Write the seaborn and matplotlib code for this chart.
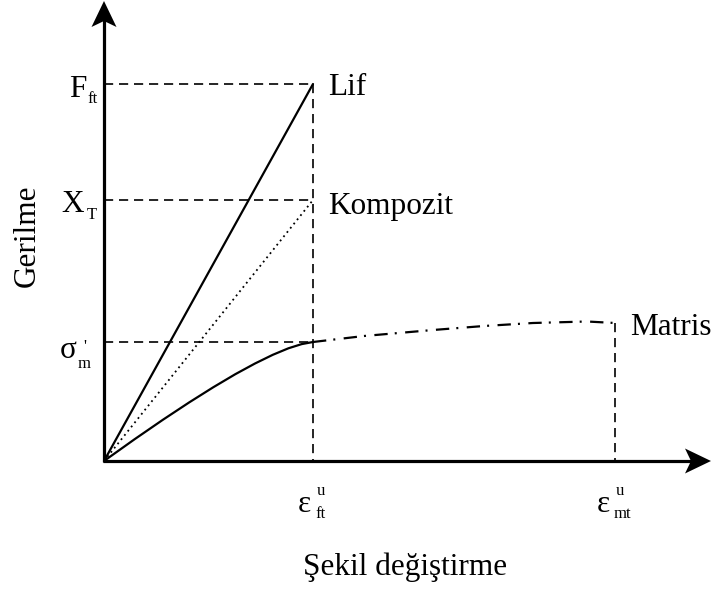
import numpy as np
import pandas as pd
import seaborn as sns
import matplotlib
matplotlib.use("Agg")
import matplotlib.pyplot as plt
from matplotlib.patches import Polygon

# ---- schematic values (arbitrary units) ----
eps_ft = 2.09      # fibre failure strain
eps_mt = 5.11      # matrix failure strain
F_ft = 3.77        # fibre strength
X_T = 2.61         # composite strength
sigma_m = 1.19     # matrix stress at fibre failure

fiber_x = [0.0, eps_ft]
fiber_y = [0.0, F_ft]

comp_x = [0.0, eps_ft]
comp_y = [0.0, X_T]

matrix_x = [0.0, 0.305, 0.59, 0.852, 1.092, 1.313, 1.51, 1.688, 1.844, 1.977, eps_ft]
matrix_y = [0.0, 0.217, 0.413, 0.586, 0.737, 0.868, 0.975, 1.062, 1.127, 1.169, sigma_m]

matrix_tail_x = [eps_ft, 2.6, 3.29, 3.8, 4.29, 4.83, eps_mt]
matrix_tail_y = [sigma_m, 1.25, 1.31, 1.35, 1.38, 1.395, 1.38]

sns.set_style("white")
plt.rcParams["font.family"] = ["Liberation Serif", "DejaVu Serif"]
plt.rcParams["text.color"] = "black"

fig = plt.figure(figsize=(7.15, 5.92), dpi=100)
ax = fig.add_axes([0, 0, 1, 1])
ax.set_xlim(-1.04, 6.11)
ax.set_ylim(-1.31, 4.61)
ax.set_axis_off()

k = "black"

# curves
sns.lineplot(x=fiber_x, y=fiber_y, ax=ax, color=k, lw=1.6, sort=False, estimator=None)
sns.lineplot(x=comp_x, y=comp_y, ax=ax, color=k, lw=1.3, sort=False, estimator=None,
             linestyle=(0, (1, 2)))
sns.lineplot(x=matrix_x, y=matrix_y, ax=ax, color=k, lw=1.6, sort=False, estimator=None)
sns.lineplot(x=matrix_tail_x, y=matrix_tail_y, ax=ax, color=k, lw=1.6, sort=False,
             estimator=None, linestyle=(0, (6.0, 3.2, 0.9, 3.8)))

# guide lines
dash = (0, (5.5, 3.5))
for lvl in (F_ft, X_T, sigma_m):
    ax.plot([0, eps_ft], [lvl, lvl], color=k, lw=1.2, linestyle=dash)
ax.plot([eps_ft, eps_ft], [F_ft, 0], color=k, lw=1.2, linestyle=dash)
ax.plot([eps_mt, eps_mt], [matrix_tail_y[-1], 0], color=k, lw=1.2, linestyle=dash)

# axes with arrow heads
ax.plot([-0.01, 5.9], [0, 0], color=k, lw=2.3, solid_capstyle="butt")
ax.plot([0, 0], [-0.01, 4.45], color=k, lw=2.3, solid_capstyle="butt")
ax.add_patch(Polygon([(6.07, 0), (5.81, 0.125), (5.87, 0), (5.81, -0.125)],
                     closed=True, color=k, lw=0))
ax.add_patch(Polygon([(0, 4.60), (-0.125, 4.34), (0, 4.40), (0.125, 4.34)],
                     closed=True, color=k, lw=0))

big = 22.5
small = 12

# y-level labels
ax.text(-0.35, 3.64, "F", fontsize=big, ha="left", va="baseline")
ax.text(-0.17, 3.58, "ft", fontsize=small, ha="left", va="baseline")
ax.text(-0.43, 2.49, "X", fontsize=big, ha="left", va="baseline")
ax.text(-0.17, 2.42, "T", fontsize=small, ha="left", va="baseline")
ax.text(-0.44, 1.03, "σ", fontsize=big, ha="left", va="baseline")
ax.text(-0.21, 1.22, "'", fontsize=small, ha="left", va="top")
ax.text(-0.26, 0.93, "m", fontsize=small, ha="left", va="baseline")

# x-level labels
for x0, sub in ((1.94, "ft"), (4.93, "mt")):
    ax.text(x0, -0.51, "ε", fontsize=big, ha="left", va="baseline")
    ax.text(x0 + 0.19, -0.34, "u", fontsize=small, ha="left", va="baseline")
    ax.text(x0 + 0.17, -0.57, sub, fontsize=small, ha="left", va="baseline")

# curve names
ax.text(2.24, 3.66, "Lif", fontsize=big, ha="left", va="baseline")
ax.text(2.24, 2.47, "Kompozit", fontsize=big, ha="left", va="baseline")
ax.text(5.26, 1.26, "Matris", fontsize=big, ha="left", va="baseline")

# axis titles
ax.text(-0.77, 2.25, "Gerilme", fontsize=big, rotation=90, ha="center", va="center")
ax.text(1.99, -1.14, "Şekil değiştirme", fontsize=big, ha="left", va="baseline")

fig.savefig("out.png", dpi=100, facecolor="white")
